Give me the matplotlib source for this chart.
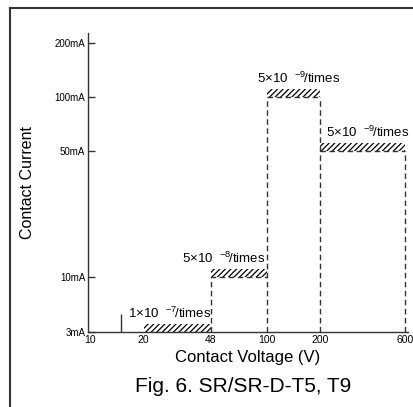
import matplotlib.pyplot as plt
import numpy as np
from matplotlib.lines import Line2D
from matplotlib.ticker import NullFormatter

plt.rcParams['font.family'] = ['Liberation Sans', 'DejaVu Sans']
plt.rcParams['mathtext.fontset'] = 'custom'
plt.rcParams['mathtext.rm'] = 'Liberation Sans'
plt.rcParams['mathtext.it'] = 'Liberation Sans'
plt.rcParams['hatch.linewidth'] = 0.9

# datos de la gráfica
v_ini = [20, 48, 100, 200]          # tensión inicial de cada tramo (V)
v_fin = [48, 100, 200, 600]         # tensión final (V)
corriente = [3, 10, 100, 50]        # corriente de contacto (mA)
etiquetas = [r'1×10  ${}^{-7}\!$/times', r'5×10  ${}^{-8}\!$/times',
             r'5×10  ${}^{-9}\!$/times', r'5×10  ${}^{-9}\!$/times']
x_ticks = [10, 20, 48, 100, 200, 600]
y_ticks = [3, 10, 50, 100, 200]
y_labels = ['3mA', '10mA', '50mA', '100mA', '200mA']


# escala: logarítmica sobre 10 mA, lineal por debajo
def fwd(v):
    v = np.asarray(v, dtype=float)
    return np.where(v >= 10, np.log10(np.maximum(v, 10)), 1 - (10 - v) / 7 * 0.306)


def inv(f):
    f = np.asarray(f, dtype=float)
    return np.where(f >= 1, 10 ** np.minimum(f, 10), 10 - (1 - f) / 0.306 * 7)


fig = plt.figure(figsize=(4.14, 4.07), dpi=100)
ax = fig.add_axes([88 / 414, 75 / 407, 320 / 414, 299 / 407])
ax.set_xscale('log')
ax.set_yscale('function', functions=(fwd, inv))
ax.set_xlim(9.7, 625)
ax.set_ylim(3, 227)

gris = '#333333'
dash = (0, (4, 2.5))

# bandas rayadas y líneas discontinuas
lab_x = [28, 57, 150, 370]
for i in range(len(corriente)):
    y0 = corriente[i]
    y1 = float(inv(fwd(y0) + 0.046))
    ax.fill_between([v_ini[i], v_fin[i]], y0, y1, facecolor='none',
                    edgecolor='black', hatch='//////', linewidth=0)
    ax.annotate(etiquetas[i], (lab_x[i], y1), xytext=(0, 2),
                textcoords='offset points', ha='center', va='bottom', fontsize=9.5)

ax.plot([48, 48, 100], [3, 10, 10], color=gris, lw=1, ls=dash)
ax.plot([100, 100], [3, 100], color=gris, lw=1, ls=dash)
ax.plot([100, 200], [100, 100], color=gris, lw=1, ls=dash)
ax.plot([200, 200], [3, 100], color=gris, lw=1, ls=dash)
ax.plot([200, 600], [50, 50], color=gris, lw=1, ls=dash)
ax.plot([600, 600], [3, 50], color=gris, lw=1, ls=dash)

# ejes
for s in ['top', 'right']:
    ax.spines[s].set_visible(False)
for s in ['left', 'bottom']:
    ax.spines[s].set_linewidth(1)
    ax.spines[s].set_color(gris)

ax.set_xticks(x_ticks)
ax.set_xticklabels([str(t) for t in x_ticks])
ax.set_xticks([15, 100, 200, 600], minor=True)
ax.xaxis.set_minor_formatter(NullFormatter())
ax.tick_params(axis='x', which='major', length=0, labelsize=7.5, pad=2)
ax.tick_params(axis='x', which='minor', direction='in', length=13, width=1, color=gris)

ax.set_yticks(y_ticks)
ax.set_yticklabels(y_labels)
ax.yaxis.set_minor_locator(plt.NullLocator())
ax.tick_params(axis='y', which='major', direction='in', length=5, width=1,
               labelsize=7, pad=2, color=gris)

ax.set_xlabel('Contact Voltage (V)', fontsize=12, labelpad=4)
ax.set_ylabel('Contact Current', fontsize=11.5, labelpad=14)

fig.text(243 / 414, 1 - 386 / 407, 'Fig. 6. SR/SR-D-T5, T9', fontsize=15,
         ha='center', va='center')

# marco exterior
fig.add_artist(Line2D([9.5 / 414, 9.5 / 414], [0, 1 - 8 / 407], color=gris, lw=1.5,
                      transform=fig.transFigure))
fig.add_artist(Line2D([9.5 / 414, 1], [1 - 8 / 407, 1 - 8 / 407], color=gris, lw=1.5,
                      transform=fig.transFigure))

plt.savefig('out.png', dpi=100)
